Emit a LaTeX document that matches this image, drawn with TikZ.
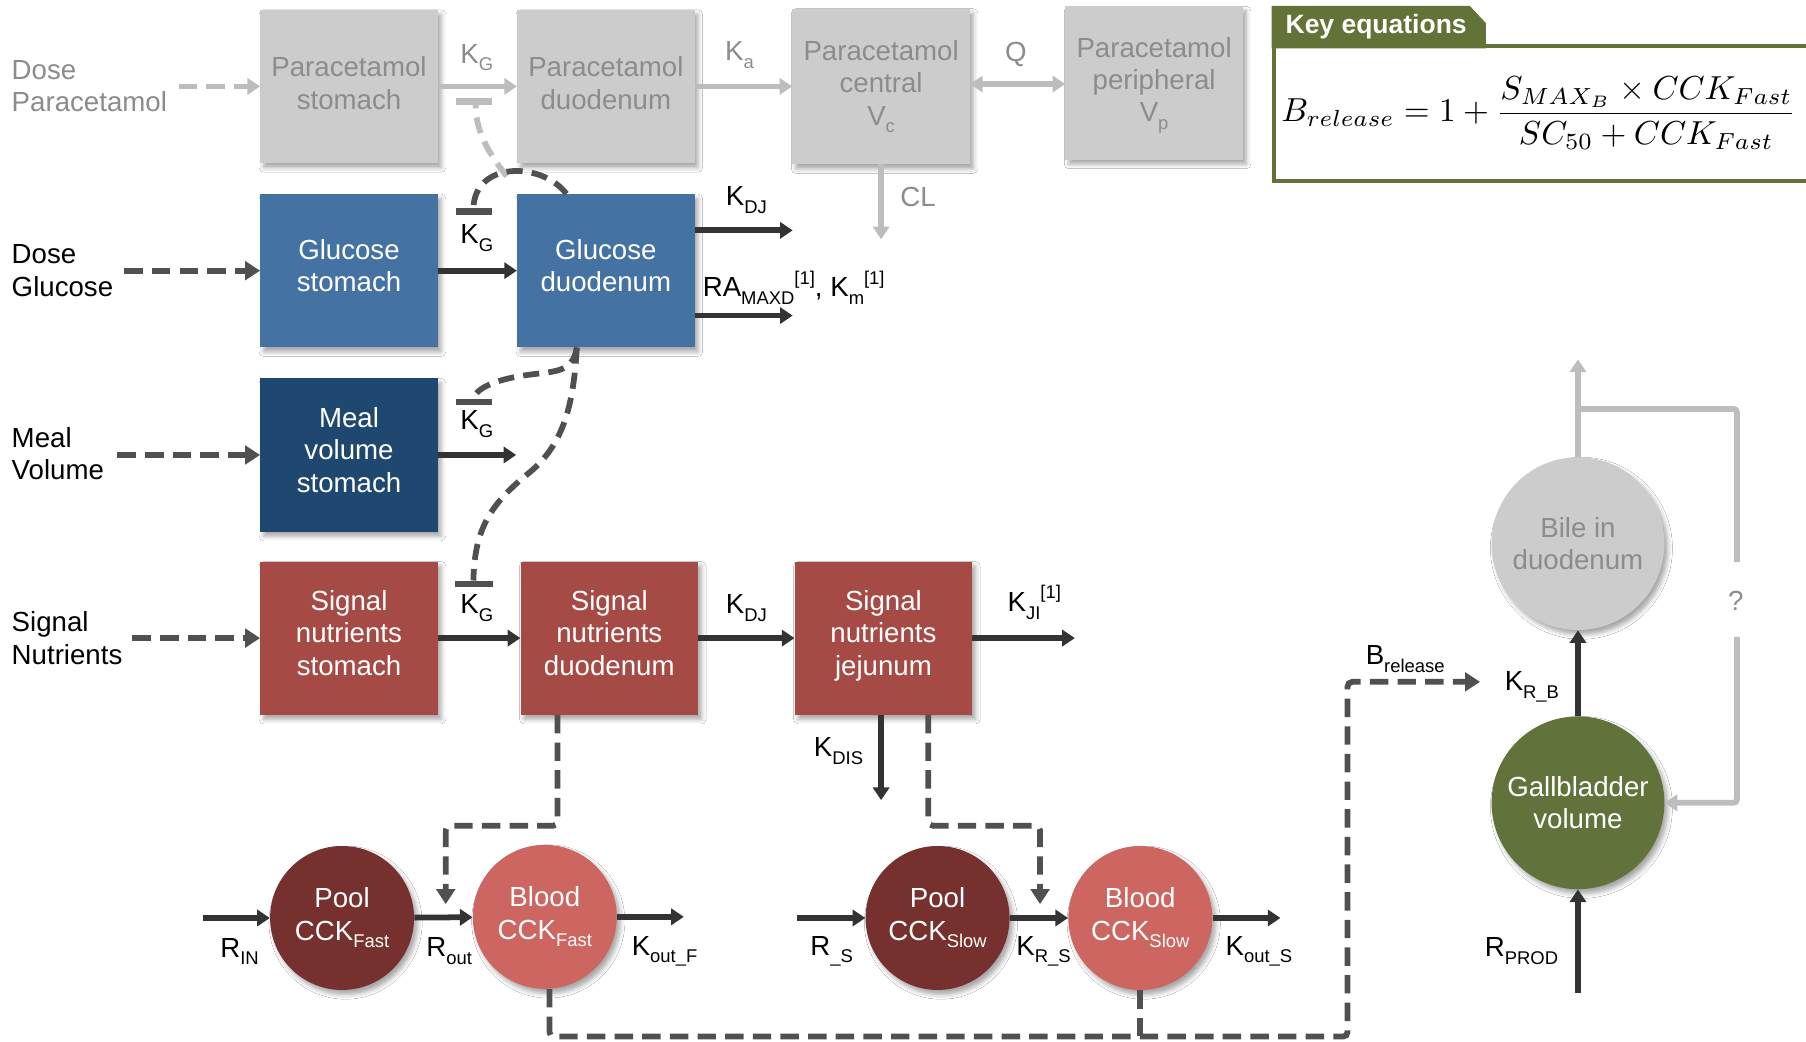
\documentclass[tikz,border=0pt]{standalone}
\usepackage[no-math]{fontspec}
\setmainfont{Liberation Sans}
\usetikzlibrary{arrows.meta,calc,shadows.blur}

\definecolor{dk}{HTML}{333333}
\definecolor{dd}{HTML}{505050}
\definecolor{lg}{HTML}{BDBDBD}
\definecolor{pgray}{HTML}{CCCCCC}
\definecolor{ptext}{HTML}{8C8C8C}
\definecolor{gblue}{HTML}{4472A2}
\definecolor{mblue}{HTML}{1F4870}
\definecolor{sred}{HTML}{A64A45}
\definecolor{pool}{HTML}{76302D}
\definecolor{blood}{HTML}{CD6660}
\definecolor{gall}{HTML}{61733A}
\definecolor{keyg}{HTML}{637337}

\newcommand\mainsz{\fontsize{24}{28}\selectfont}
\newcommand\lsub[1]{\raisebox{-0.28em}{\fontsize{16}{16}\selectfont #1}}
\newcommand\lsup[1]{\raisebox{0.45em}{\fontsize{16}{16}\selectfont #1}}

\begin{document}
\begin{tikzpicture}[x=1pt,y=-1pt,
  every node/.style={font=\mainsz},
  shad/.style={blur shadow={shadow xshift=3pt,shadow yshift=-4pt,shadow blur radius=4pt,shadow opacity=35}},
  box/.style={rectangle,minimum width=154pt,minimum height=133pt,inner sep=0pt,align=center,text=white,text depth=9pt,shad},
  pbox/.style={box,fill=pgray,text=ptext},
  comp/.style={circle,minimum size=125pt,inner sep=0pt,align=center,text=white,shad},
  tip/.style={-{Triangle[length=11pt,width=14pt]}},
  flow/.style={draw=dk,line width=5pt,tip},
  gflow/.style={draw=lg,line width=5pt,tip},
  gline/.style={draw=lg,line width=5pt},
  feed/.style={draw=dd,line width=5pt,dash pattern=on 16pt off 8pt},
  feedarr/.style={feed,-{Triangle[length=13pt,width=16pt]}},
  gfeedarr/.style={draw=lg,line width=5pt,dash pattern=on 16pt off 8pt,-{Triangle[length=11pt,width=14pt]}},
  lab/.style={inner sep=0pt,text=black},
  glab/.style={inner sep=0pt,text=ptext},
  tbar/.style={line width=6pt},
]
\fill[white] (0,0) rectangle (1568,904);
\useasboundingbox (0,0) rectangle (1568,904);

% input labels
\node[glab,align=left,anchor=west] (dosep) at (10,75) {Dose\\Paracetamol};
\node[lab,align=left,anchor=west] (doseg) at (10,235) {Dose\\Glucose};
\node[lab,align=left,anchor=west] (meal) at (10,394) {Meal\\Volume};
\node[lab,align=left,anchor=west] (signal) at (10,554) {Signal\\Nutrients};

% paracetamol compartments
\node[pbox,text depth=6pt] (ps) at (303,75) {Paracetamol\\stomach};
\node[pbox,text depth=6pt] (pd) at (526,75) {Paracetamol\\duodenum};
\node[pbox,minimum height=135pt,text depth=6pt] (pc) at (765,75) {Paracetamol\\central\\V\lsub{c}};
\node[pbox,text depth=6pt] (pp) at (1002,72) {Paracetamol\\peripheral\\V\lsub{p}};

% glucose, meal volume and signal nutrient compartments
\node[box,fill=gblue] (gs) at (303,235) {Glucose\\stomach};
\node[box,fill=gblue] (gd) at (526,235) {Glucose\\duodenum};
\node[box,fill=mblue] (ms) at (303,395) {Meal\\volume\\stomach};
\node[box,fill=sred] (ss) at (303,554) {Signal\\nutrients\\stomach};
\node[box,fill=sred] (sd) at (529,554) {Signal\\nutrients\\duodenum};
\node[box,fill=sred] (sj) at (767,554) {Signal\\nutrients\\jejunum};

% CCK and bile compartments
\node[comp,fill=pool] (pf) at (297,797) {Pool\\CCK\lsub{Fast}};
\node[comp,fill=blood] (bf) at (473,796) {Blood\\CCK\lsub{Fast}};
\node[comp,fill=pool] (psl) at (814,797) {Pool\\CCK\lsub{Slow}};
\node[comp,fill=blood] (bsl) at (990,797) {Blood\\CCK\lsub{Slow}};
\node[comp,fill=gall,minimum size=150pt] (gb) at (1370,697) {Gallbladder\\volume};
\node[comp,fill=pgray,text=ptext,minimum size=150pt] (bile) at (1370,472) {Bile in\\duodenum};

% free ends
\coordinate (inP) at (155,75);
\coordinate (inG) at (108,235);
\coordinate (inM) at (102,395);
\coordinate (inS) at (115,554);
\coordinate (inRin) at (176,797);
\coordinate (inRs) at (692,797);
\coordinate (inRprod) at (1370,862);
\coordinate (bot) at (0,900);

% paracetamol flows
\draw[gfeedarr] (inP) -- (ps.west);
\draw[gflow] (ps) -- (pd);
\draw[gflow] (pd) -- (pc);
\draw[gline,{Triangle[length=11pt,width=14pt]}-{Triangle[length=11pt,width=14pt]}] ($(pc.east)+(0,-2)$) -- ($(pp.west)+(0,1)$);
\draw[gflow] (pc.south) -- ++(0,65) coordinate (clend);
\node[glab] (lkg1) at (414,50) {K\lsub{G}};
\node[glab] (lka) at (642,48) {K\lsub{a}};
\node[glab] (lq) at (882,47) {Q};
\node[glab] (lcl) at (797,171) {CL};

% glucose flows
\draw[feedarr] (inG) -- (gs.west);
\draw[flow] (gs) -- (gd);
\draw[flow] ($(gd.east)+(0,-35)$) -- ++(85,0) coordinate (kdjend);
\draw[flow] ($(gd.east)+(0,39)$) -- ++(85,0) coordinate (ramend);
\node[lab] (lkg2) at (414,207) {K\lsub{G}};
\node[lab] (lkdj1) at (648,174) {K\lsub{DJ}};
\node[lab,anchor=west] (lram) at (610,250) {RA\lsub{MAXD}\lsup{[1]}, K\lsub{m}\lsup{[1]}};

% meal volume flows
\draw[feedarr] (inM) -- (ms.west);
\draw[flow] (ms.east) -- ++(68,0) coordinate (msend);
\node[lab] (lkg3) at (414,368) {K\lsub{G}};

% signal nutrient flows
\draw[feedarr] (inS) -- (ss.west);
\draw[flow] (ss) -- (sd);
\draw[flow] (sd) -- (sj);
\draw[flow] (sj.east) -- ++(89,0) coordinate (kjiend);
\draw[flow] ($(sj.south)+(-2,0)$) -- ++(0,74) coordinate (kdisend);
\node[lab] (lkg4) at (414,528) {K\lsub{G}};
\node[lab] (lkdj2) at (648,528) {K\lsub{DJ}};
\node[lab] (lkji) at (898,523) {K\lsub{JI}\lsup{[1]}};
\node[lab] (lkdis) at (728,652) {K\lsub{DIS}};

% inhibition of gastric emptying by duodenal glucose
\draw[lg,tbar] (396,88) coordinate (t1a) -- (427,88) coordinate (t1b);
\draw[lg,line width=5pt,dash pattern=on 14pt off 8pt] (440,153) .. controls (420,128) and (413,110) .. (413,91);
\draw[dd,line width=5pt,dash pattern=on 14pt off 8pt] ($(gd.north west)+(43,0)$) .. controls (470,140) and (412,140) .. (411,181);
\draw[dd,tbar] (396,184) coordinate (t2a) -- (427,184) coordinate (t2b);
\draw[dd,line width=5pt,dash pattern=on 14pt off 8pt] ($(gd.south west)+(52,0)$) .. controls (497,325) and (480,322) .. (455,326) .. controls (428,330) and (413,338) .. (411,346);
\draw[dd,tbar] (396,349) coordinate (t3a) -- (427,349) coordinate (t3b);
\draw[dd,line width=5pt,dash pattern=on 14pt off 8pt] ($(gd.south west)+(52,0)$) .. controls (498,350) and (490,385) .. (460,410) .. controls (425,438) and (412,460) .. (411,504);
\draw[dd,tbar] (395,507) coordinate (t4a) -- (428,507) coordinate (t4b);

% CCK flows
\draw[flow] (inRin) -- (pf.west);
\draw[flow] (pf) -- (bf);
\draw[flow] (bf.east) -- ++(58,0) coordinate (koutf);
\draw[flow] (inRs) -- (psl.west);
\draw[flow] (psl) -- (bsl);
\draw[flow] (bsl.east) -- ++(59,0) coordinate (kouts);
\node[lab] (lrin) at (208,826) {R\lsub{IN}};
\node[lab] (lrout) at (390,826) {R\lsub{out}};
\node[lab] (lkoutf) at (577,826) {K\lsub{out\_F}};
\node[lab] (lrs) at (722,826) {R\lsub{\_S}};
\node[lab] (lkrs) at (906,826) {K\lsub{R\_S}};
\node[lab] (lkouts) at (1093,826) {K\lsub{out\_S}};

% stimulation of CCK release
\draw[feedarr,rounded corners=4pt] ($(sd.south)+(-45,0)$) |- (387,717) -- (387,785);
\draw[feedarr,rounded corners=4pt] ($(sj.south)+(39,0)$) |- (903,717) -- (903,785);
\draw[feedarr,rounded corners=4pt] ($(bf.south)+(4,0)$) |- (1170,900) -- (1170,592) -- (1285,592) coordinate (brel);
\draw[feed] (bsl.south) -- (bsl.south |- bot);
\node[lab] (lbrel) at (1220,572) {B\lsub{release}};

% gallbladder and bile
\draw[flow] (inRprod) -- (gb.south);
\draw[flow] (gb) -- (bile);
\draw[gflow] (bile.north) -- (1370,312) coordinate (bileout);
\draw[gline,rounded corners=3pt] (1370,355) -| (1508,488);
\draw[gflow,rounded corners=3pt] (1508,553) |- (gb.east);
\node[lab] (lrprod) at (1321,826) {R\lsub{PROD}};
\node[lab] (lkrb) at (1330,596) {K\lsub{R\_B}};
\node[glab] (lq2) at (1507,522) {?};

% key equations panel
\fill[keyg] (1104,42) -- (1104,5) -- (1276,5) -- (1290,20) -- (1290,42) -- cycle;
\draw[keyg,line width=4pt] (1106,40) rectangle (1620,157);
\node[anchor=west,text=white,inner sep=0pt,font=\fontsize{23}{26}\selectfont\bfseries] (keyt) at (1116,23) {Key equations};
\node[inner sep=0pt,font=\normalsize] (eq) at (1336,98)
  {\resizebox{447pt}{!}{$\displaystyle B_{release} = 1 + \frac{S_{MAX_B}\times CCK_{Fast}}{SC_{50}+CCK_{Fast}}$}};
\end{tikzpicture}
\end{document}
